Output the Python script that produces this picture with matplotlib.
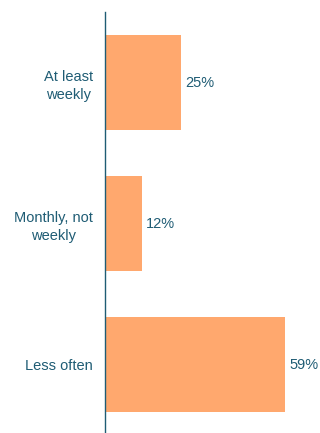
import matplotlib
matplotlib.use('Agg')
from matplotlib import pyplot as plt

categories = ['At least\nweekly', 'Monthly, not\nweekly', 'Less often']
shares = [25, 12, 59]

BAR_COLOR = '#FFA86E'
TEXT_COLOR = '#1F5C74'

plt.rcParams['font.family'] = ['Liberation Sans', 'DejaVu Sans']

fig = plt.figure(figsize=(3.2, 4.33), dpi=100)
ax = fig.add_axes([105 / 320, -2 / 433, 213.5 / 320, 423 / 433])

positions = list(range(len(categories)))
bars = ax.barh(positions, shares, height=0.667, color=BAR_COLOR)

ax.set_xlim(0, 70)
ax.set_ylim(len(categories) - 0.5, -0.5)

for bar, value in zip(bars, shares):
    ax.annotate("{}%".format(value),
                xy=(bar.get_width(), bar.get_y() + bar.get_height() / 2),
                xytext=(3, 0), textcoords='offset points',
                ha='left', va='center', fontsize=10.5, color=TEXT_COLOR,
                annotation_clip=False)

ax.set_yticks(positions)
ax.set_yticklabels(categories, fontsize=10.5, color=TEXT_COLOR,
                   multialignment='center', linespacing=1.35)
ax.tick_params(axis='y', length=0, pad=8.5)
ax.set_xticks([])

for side in ('top', 'right', 'bottom'):
    ax.spines[side].set_visible(False)
ax.spines['left'].set_color(TEXT_COLOR)
ax.spines['left'].set_linewidth(1.0)

fig.savefig('out.png', dpi=100)
